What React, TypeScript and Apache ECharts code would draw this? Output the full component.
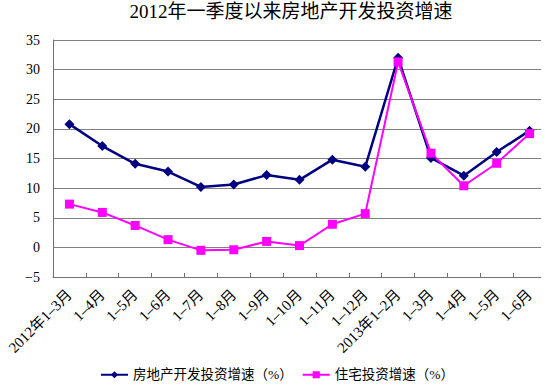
import React, { useEffect, useRef } from 'react';
import * as echarts from 'echarts';

const titleText = '2012年一季度以来房地产开发投资增速';
const categories = [
  '2012年1-3月', '1-4月', '1-5月', '1-6月', '1-7月', '1-8月', '1-9月', '1-10月',
  '1-11月', '1-12月', '2013年1-2月', '1-3月', '1-4月', '1-5月', '1-6月',
];
const seriesNames = ['房地产开发投资增速（%）', '住宅投资增速（%）'];
const realEstateGrowth = [20.8, 17.1, 14.1, 12.8, 10.2, 10.6, 12.2, 11.4, 14.8, 13.6, 32.0, 15.1, 12.1, 16.1, 19.7];
const housingGrowth = [7.3, 5.9, 3.7, 1.3, -0.5, -0.4, 1.0, 0.3, 3.9, 5.7, 31.3, 15.9, 10.4, 14.2, 19.2];
const yMin = -5;
const yMax = 35;
const yStep = 5;

const FONT = "'Liberation Serif', 'Noto Sans CJK SC', serif";

export default function App() {
  const ref = useRef<HTMLDivElement>(null);
  useEffect(() => {
    if (!ref.current) return;
    const chart = echarts.init(ref.current, undefined, { renderer: 'svg' });
    chart.setOption({
      animation: false,
      backgroundColor: '#ffffff',
      title: {
        text: titleText,
        left: 291,
        textAlign: 'center',
        top: 2,
        padding: 0,
        textStyle: { fontFamily: FONT, fontSize: 19, fontWeight: 'normal', color: '#000' },
      },
      legend: {
        left: 100,
        top: 368,
        padding: 0,
        itemWidth: 27,
        itemHeight: 9,
        itemGap: 9,
        textStyle: { fontFamily: FONT, fontSize: 13.5, color: '#000' },
        data: seriesNames,
      },
      grid: { left: 53, top: 40, width: 501, height: 237, containLabel: false },
      xAxis: {
        type: 'category',
        data: categories,
        boundaryGap: true,
        axisLine: { onZero: false, lineStyle: { color: '#707070', width: 1 } },
        axisTick: { show: true, inside: true, length: 4, lineStyle: { color: '#707070' } },
        axisLabel: {
          interval: 0,
          rotate: 45,
          margin: 15,
          fontFamily: FONT,
          fontSize: 15,
          color: '#000',
          formatter: (v: string) => v.replace(/-/g, '\u2013'),
        },
        splitLine: { show: false },
      },
      yAxis: {
        type: 'value',
        min: yMin,
        max: yMax,
        interval: yStep,
        axisLine: { show: true, lineStyle: { color: '#707070', width: 1 } },
        axisTick: { show: false },
        axisLabel: {
          margin: 13,
          fontFamily: FONT,
          fontSize: 14,
          color: '#000',
          formatter: (v: number) => (v < 0 ? '\u2212' + Math.abs(v) : String(v)),
        },
        splitLine: { show: true, lineStyle: { color: '#808080', width: 1 } },
      },
      graphic: [
        {
          type: 'rect',
          z: 100,
          shape: { x: 541, y: 30, width: 10, height: 252 },
          style: { fill: '#ffffff' },
        },
      ],
      series: [
        {
          name: seriesNames[0],
          type: 'line',
          data: realEstateGrowth,
          symbol: 'diamond',
          symbolSize: 10,
          lineStyle: { color: '#000080', width: 2.5 },
          itemStyle: { color: '#000080' },
          emphasis: { disabled: true },
        },
        {
          name: seriesNames[1],
          type: 'line',
          data: housingGrowth,
          symbol: 'rect',
          symbolSize: 9,
          lineStyle: { color: '#FF00FF', width: 2 },
          itemStyle: { color: '#FF00FF' },
          emphasis: { disabled: true },
        },
      ],
    });
    return () => chart.dispose();
  }, []);
  return (
    <div
      ref={ref}
      style={{ position: 'absolute', left: 0, top: 0, width: 546, height: 387 }}
    />
  );
}
